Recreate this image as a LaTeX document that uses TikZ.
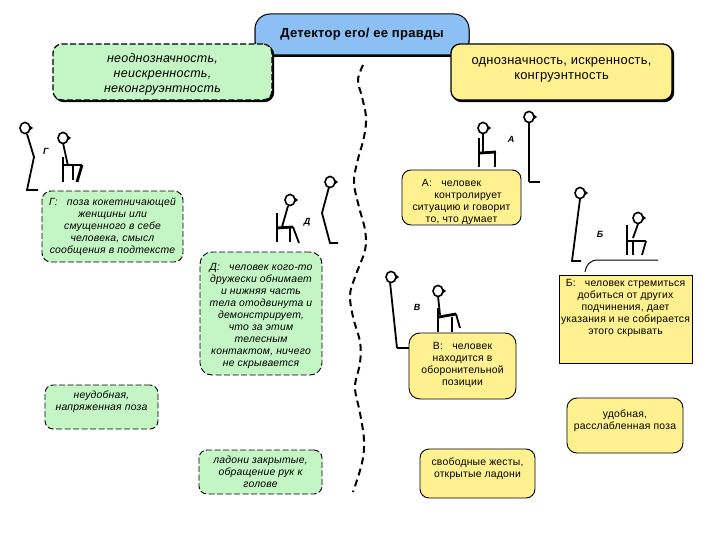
\documentclass[tikz,border=0pt]{standalone}
\usepackage{fontspec}
\setmainfont[LetterSpace=2]{Liberation Sans}
\usetikzlibrary{shadows}
\definecolor{gfill}{RGB}{196,245,196}
\definecolor{yfill}{RGB}{255,241,143}
\definecolor{bfill}{RGB}{140,192,245}
\tikzset{
  basebox/.style={draw=black,line width=0.9pt,align=center,inner sep=0pt,font=\fontsize{10.4}{12}\selectfont},
  gbox/.style={basebox,fill=gfill,dash pattern=on 6pt off 2.5pt,font=\itshape\fontsize{10.4}{12}\selectfont},
  ybox/.style={basebox,fill=yfill},
  topbox/.style={line width=1.3pt,
     copy shadow={shadow xshift=1.5pt,shadow yshift=-1.5pt,fill=black,draw=black,solid}},
  stick/.style={line width=1.8pt,line join=miter},
  thick stick/.style={line width=2.8pt},
  figlabel/.style={font=\bfseries\itshape\fontsize{9}{10}\selectfont,inner sep=0pt},
  wave/.style={line width=2pt,dash pattern=on 7pt off 4.5pt}
}
\newcommand{\figurehead}[2]{%
  \fill (#1+4,#2-3) -- (#1+8,#2) -- (#1+4,#2+3) -- cycle;
  \draw[line width=1.6pt,fill=white] (#1,#2) ellipse[x radius=5pt,y radius=5.6pt];}
\begin{document}
\begin{tikzpicture}[x=1pt,y=-1pt]
\useasboundingbox (0,0) rectangle (720,540);
% title
\node[basebox,fill=bfill,line width=1pt,rounded corners=15pt,minimum width=214pt,minimum height=41pt,
  font=\bfseries\fontsize{13}{15}\selectfont,
  copy shadow={shadow xshift=0pt,shadow yshift=-1.5pt,fill=black,draw=black}] (title) at (362,34.5) {\raisebox{2pt}{Детектор его/ ее правды}};
% wavy dashed divider
\draw[wave] plot[smooth,tension=0.6] coordinates {(363,65) (358,80) (362,97) (366,117) (364,137) (357,163) (354,183) (359,207) (365,230) (365,250) (355,277) (350,295) (353,317) (360,342) (360,363) (355,387) (360,413) (364,440) (362,463) (353,492)};
% Г figures
\figurehead{25}{128}
\draw[stick] (27,134) -- (34,157) -- (27,190) -- (38,190);
\figurehead{63}{138}
\draw[stick] (63,143) -- (68,166);
\draw[stick] (63,157) -- (63,182);
\draw[thick stick] (63,165) -- (82,165);
\draw[thick stick] (82,165) -- (77,182);
\draw[stick] (73,166) -- (73,180);
\node[figlabel] (lG) at (46,151) {Г};
% Д figures
\figurehead{290}{200}
\draw[stick] (288,206) -- (282,227);
\draw[stick] (277,213) -- (277,242);
\draw[thick stick] (277,228) -- (293,227);
\draw[stick] (290,228) -- (290,242);
\draw[stick] (293,227) -- (299,243);
\figurehead{330}{182}
\draw[stick] (329,187) -- (322,213) -- (330,243) -- (338,243);
\node[figlabel] (lD) at (307,222) {Д};
% А figures
\figurehead{483}{128}
\draw[stick] (483,134) -- (483,152);
\draw[stick] (479,138) -- (479,167);
\draw[thick stick] (480,153) -- (496,152);
\draw[thick stick] (495,153) -- (495,167);
\figurehead{529}{117}
\draw[stick] (529,122) -- (529,182);
\draw[thick stick] (529,182) -- (540,182);
\node[figlabel] (lA) at (511,139) {А};
% Б figures
\figurehead{580}{193}
\draw[stick] (580,199) -- (572,261) -- (581,261);
\figurehead{638}{218}
\draw[stick] (638,224) -- (633,238);
\draw[stick] (627,225) -- (627,255);
\draw[thick stick] (627,241) -- (646,241);
\draw[stick] (646,241) -- (642,255);
\draw[stick] (633,242) -- (633,255);
\node[figlabel] (lB) at (600,234) {Б};
% В figures
\figurehead{391}{277}
\draw[stick] (390,282) -- (397,348);
\draw[thick stick] (397,348) -- (412,348);
\figurehead{438}{291}
\draw[stick] (438,296) -- (440,315);
\draw[stick] (438,308) -- (438,332);
\draw[thick stick] (439,317) -- (456,314);
\draw[stick] (456,314) -- (460,328);
\draw[stick] (452,317) -- (452,332);
\node[figlabel] (lV) at (417,307) {В};
% top boxes
\node[gbox,topbox,rounded corners=9pt,minimum width=219pt,minimum height=56pt,font=\itshape\fontsize{12.5}{15}\selectfont] (neg) at (162.5,72) {\rule{0pt}{14pt}неоднозначность,\\ неискренность,\\ неконгруэнтность};
\node[ybox,topbox,rounded corners=9pt,minimum width=221pt,minimum height=56pt,font=\fontsize{12.9}{15}\selectfont] (pos) at (561.5,72) {однозначность, искренность,\\ конгруэнтность\\[-8pt] ~};
% green boxes
\node[gbox,rounded corners=9pt,minimum width=141pt,minimum height=71pt] (boxG) at (112.5,226.5) {Г:\ \ \ поза кокетничающей\\ женщины или\\ смущенного в себе\\ человека, смысл\\ сообщения в подтексте};
\node[gbox,rounded corners=12pt,minimum width=122pt,minimum height=123pt] (boxD) at (261,313.5) {\rule{0pt}{12pt}Д:\ \ \ человек кого-то\\ дружески обнимает\\ и нижняя часть\\ тела отодвинута и\\ демонстрирует,\\ что за этим\\ телесным\\ контактом, ничего\\ не скрывается};
\node[gbox,rounded corners=8pt,minimum width=113pt,minimum height=44pt] (uneasy) at (101.5,407) {неудобная,\\ напряженная поза\\ ~};
\node[gbox,rounded corners=8pt,minimum width=123pt,minimum height=44pt] (palmsc) at (260.5,472) {ладони закрытые,\\ обращение рук к\\ голове};
% yellow boxes
\node[ybox,rounded corners=9pt,minimum width=119pt,minimum height=55pt] (boxA) at (461.5,197.5) {\rule{0pt}{15.6pt}А:\ \ \ человек\hspace*{20pt}\\ \hspace*{13pt}контролирует\\ ситуацию и говорит\\ то, что думает};
\node[ybox,rectangle,minimum width=133pt,minimum height=88pt] (boxB) at (625.5,319) {Б:\ \ \ человек стремиться\\ добиться от других\\ подчинения, дает\\ указания и не собирается\\ этого скрывать\\ ~\\ ~};
\coordinate (arcstart) at (585,272);
\coordinate (lineend) at (658,260);
\draw[line width=1pt] (arcstart) .. controls (586,265) and (590,260) .. (598,260) -- (lineend);
\node[ybox,rounded corners=11pt,minimum width=107pt,minimum height=66pt] (boxV) at (462.5,366) {В:\ \ \ человек\\ находится в\\ оборонительной\\ позиции\\[-8pt] ~};
\node[ybox,rounded corners=10pt,minimum width=116pt,minimum height=55pt] (easy) at (625,425.5) {удобная,\\ расслабленная поза\\ ~};
\node[ybox,rounded corners=9pt,minimum width=115pt,minimum height=49pt] (palmso) at (477.5,473.5) {свободные жесты,\\ открытые ладони\\ ~};
\end{tikzpicture}
\end{document}
